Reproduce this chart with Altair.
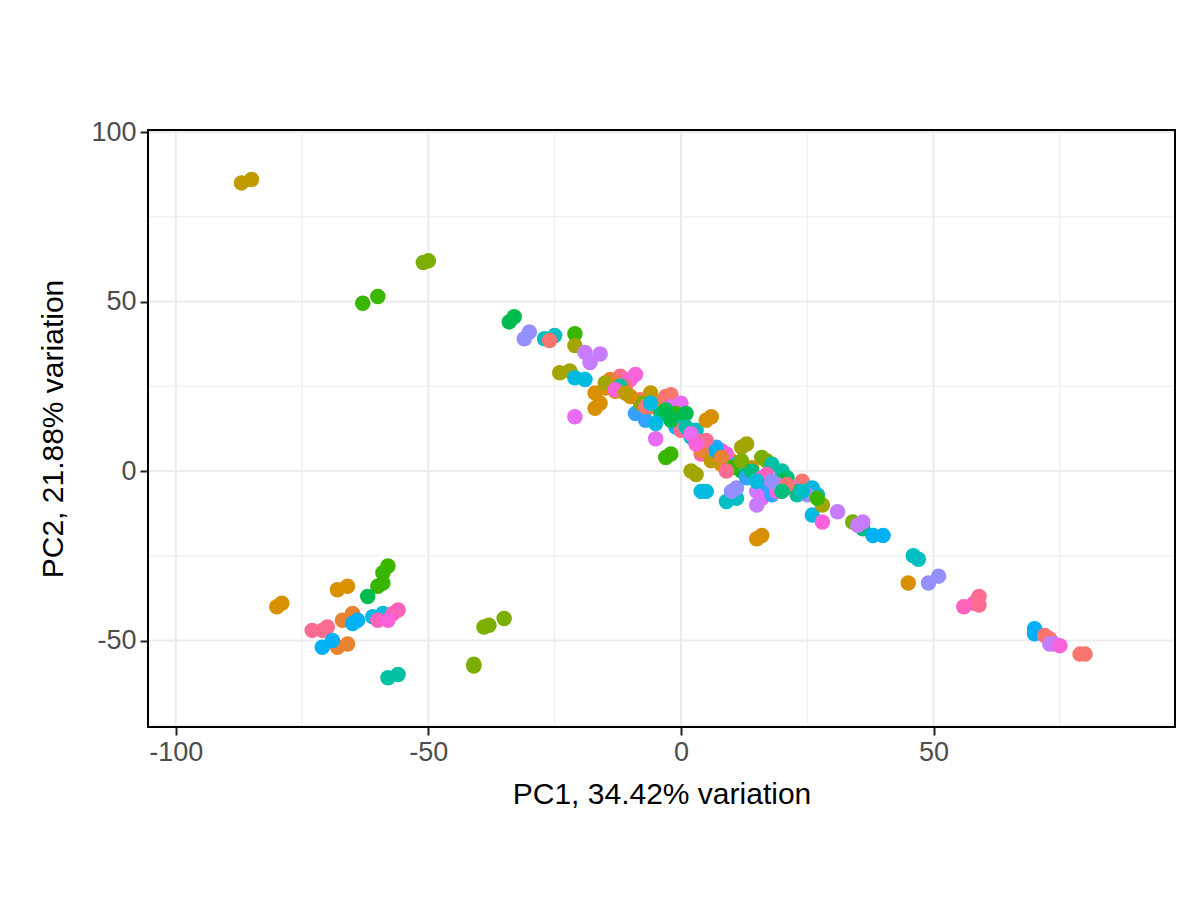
import altair as alt
import pandas as pd

palette = ["#F8766D","#EA8331","#D89000","#C09B00","#A3A500","#7CAE00","#39B600","#00BB4E","#00BF7D","#00C1A3",
           "#00BFC4","#00BAE0","#00B0F6","#35A2FF","#9590FF","#C77CFF","#E76BF3","#FA62DB","#FF62BC","#FF6C91"]

pc1 = [-87,-85,-51,-50,-63,-60,-80,-79,-68,-66,-65,-67,-68,-66,-59,-58,-60,-59,-62,-73,-71,-70,-71,-69,-65,-64,-61,-59,-60,-57,-56,-58,-58,-56,-41,-41,-39,-38,-35,
       45,46,47,49,51,56,58,59,59,70,70,72,73,74,73,75,79,80,15,16,-21,
       -34,-33,-31,-30,-25,-27,-26,-21,-21,-24,-22,-19,-18,-16,-21,-19,-17,-16,-17,-15,-13,-12,-10,-9,-8,-6,-4,-9,-7,-5,-3,-2,-2,0,-1,0,1,-3,-2,
       2,3,6,5,4,6,8,5,3,2,4,5,9,11,10,11,8,10,12,13,13,12,15,16,15,17,18,19,16,17,18,20,21,22,23,24,24,26,27,26,28,28,31,34,36,38,40,35,36,
       -14,-11,-6,-4,-1,3,7,9,11,14,17,20,22,25,-12,-8,-5,0,4,6,10,13,19,23,
       -15,-13,-10,-7,-3,1,2,5,7,8,12,14,16,18,21,24,27,-11,-6,-2,3,9,15,20]
pc2 = [85,86,61.5,62,49.5,51.5,-40,-39,-35,-34,-42,-44,-52,-51,-30,-28,-34,-33,-37,-47,-47,-46,-52,-50,-45,-44,-43,-42,-44,-42,-41,-44,-61,-60,-57,-57.5,-46,-45.5,-43.5,
       -33,-25,-26,-33,-31,-40,-39,-37,-39.5,-48,-46.5,-48.5,-49.5,-51,-51,-51.5,-54,-54,-20,-19,16,
       44,45.5,39,41,40,39,38.5,40.5,37,29,29.5,35,32,34.5,27.5,27,23,20,18.5,24.5,23.5,28,27,28.5,21,19,20,17,15,9.5,22,22.5,19,20,17,16,17,4,5,
       10,12,16,15,5,4,6,8,-1,0,-6,-6,-9,-8,-6,-5,2,3,0,-1,8,7,-6,-8,-10,-4,-7,-6,4,3,2,0,-2,-5,-7,-4,-3,-5,-7,-13,-15,-10,-12,-15,-17,-19,-19,-16,-15,
       27,25,23,17,13,9,7,5,2,1,-1,-3,-5,-7,25,20,14,12,6,3,1,-2,-4,-6,
       26,24,22,19,18,13,11,9,6,4,3,0,-2,-3,-4,-6,-8,23,20,15,8,0,-3,-6]
grp = [3,3,5,5,6,6,2,2,2,2,1,1,1,1,6,6,6,6,7,19,19,19,12,12,12,12,11,11,18,18,18,17,9,9,5,5,5,5,5,
       2,10,10,14,14,18,18,19,19,12,12,0,0,15,15,17,0,0,2,2,16,
       7,7,14,14,10,10,0,6,4,4,4,15,15,15,11,11,2,2,2,2,2,19,17,17,0,1,1,13,13,16,0,0,16,16,6,7,7,6,6,
       10,10,2,2,18,16,18,16,4,4,11,11,10,10,14,14,2,2,7,7,4,4,15,16,15,13,13,17,5,5,9,9,8,8,9,9,0,11,11,11,17,4,15,5,8,12,12,15,15,
       1,19,3,8,12,0,13,17,10,2,18,7,16,14,9,5,11,19,1,3,6,13,15,8,
       4,17,2,0,7,9,16,19,12,1,5,8,18,14,0,10,6,3,11,7,17,19,11,8]

df = pd.DataFrame({"pc1": pc1, "pc2": pc2, "g": [f"g{i:02d}" for i in grp]})

xmaj = [-100,-50,0,50]; xmin = [-75,-25,25,75]
ymaj = [-50,0,50,100]; ymin = [-75,-25,25,75]

W, H = 1027, 597
xs = alt.Scale(domain=[-105.5,97.8], nice=False, zero=False)
ys = alt.Scale(domain=[-75.5,100.6], nice=False, zero=False)

def vgrid(vals, w):
    return alt.Chart(pd.DataFrame({"v": vals})).mark_rule(color="#ebebeb", strokeWidth=w).encode(x=alt.X("v:Q", scale=xs))
def hgrid(vals, w):
    return alt.Chart(pd.DataFrame({"v": vals})).mark_rule(color="#ebebeb", strokeWidth=w).encode(y=alt.Y("v:Q", scale=ys))

axcommon = dict(grid=False, labelFontSize=27, labelColor="#4d4d4d", titleFontSize=30, titleColor="black",
                titleFontWeight="normal", tickSize=8, tickColor="#222", tickWidth=2, domain=False,
                labelFont="Liberation Sans", titleFont="Liberation Sans", labelPadding=4,
                labelExpr="'' + datum.value")

pts = alt.Chart(df).mark_circle(size=240, opacity=1).encode(
    x=alt.X("pc1:Q", scale=xs, title="PC1, 34.42% variation",
            axis=alt.Axis(values=xmaj, titlePadding=14, **axcommon)),
    y=alt.Y("pc2:Q", scale=ys, title="PC2, 21.88% variation",
            axis=alt.Axis(values=ymaj, titlePadding=22, **axcommon)),
    color=alt.Color("g:N", scale=alt.Scale(domain=[f"g{i:02d}" for i in range(20)], range=palette), legend=None),
)

border = alt.Chart(pd.DataFrame({"a": [0]})).mark_rect(fill=None, stroke="black", strokeWidth=2).encode(
    x=alt.value(0), x2=alt.value(W), y=alt.value(0), y2=alt.value(H))

chart = alt.layer(vgrid(xmin,1), hgrid(ymin,1), vgrid(xmaj,2), hgrid(ymaj,2), pts, border).properties(
    width=W, height=H,
    autosize=alt.AutoSizeParams(type="none"),
    padding={"left":140,"top":122,"right":17,"bottom":165},
).configure_view(stroke=None).configure(background="white")

chart.save("out.html", embed_options={"renderer": "svg", "actions": False})
